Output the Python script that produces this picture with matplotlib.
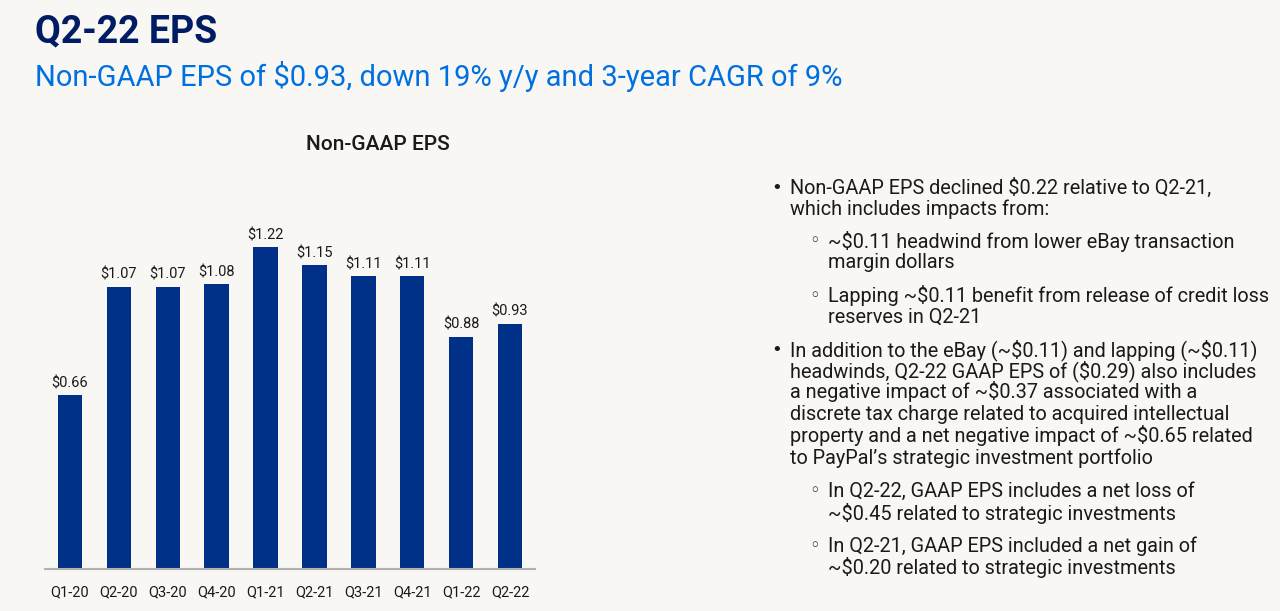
import matplotlib
matplotlib.use("Agg")
import matplotlib.pyplot as plt

quarters = ["Q1-20", "Q2-20", "Q3-20", "Q4-20", "Q1-21", "Q2-21", "Q3-21", "Q4-21", "Q1-22", "Q2-22"]
eps = [0.66, 1.07, 1.07, 1.08, 1.22, 1.15, 1.11, 1.11, 0.88, 0.93]

bullets = [
    (0, "Non-GAAP EPS declined $0.22 relative to Q2-21,"),
    (0, "which includes impacts from:"),
    (1, "~$0.11 headwind from lower eBay transaction"),
    (1, "margin dollars"),
    (1, "Lapping ~$0.11 benefit from release of credit loss"),
    (1, "reserves in Q2-21"),
    (0, "In addition to the eBay (~$0.11) and lapping (~$0.11)"),
    (0, "headwinds, Q2-22 GAAP EPS of ($0.29) also includes"),
    (0, "a negative impact of ~$0.37 associated with a"),
    (0, "discrete tax charge related to acquired intellectual"),
    (0, "property and a net negative impact of ~$0.65 related"),
    (0, "to PayPal\u2019s strategic investment portfolio"),
    (1, "In Q2-22, GAAP EPS includes a net loss of"),
    (1, "~$0.45 related to strategic investments"),
    (1, "In Q2-21, GAAP EPS included a net gain of"),
    (1, "~$0.20 related to strategic investments"),
]
line_y = [188, 209, 241, 263, 296, 317, 350, 371, 392, 414, 436, 458, 491, 513, 546, 567]
starts = {0, 2, 4, 6, 12, 14}

plt.rcParams['font.family'] = ['Roboto', 'DejaVu Sans']
plt.rcParams['text.parse_math'] = False
W, H = 1280, 611
bg = '#f8f7f4'
fig = plt.figure(figsize=(W / 100, H / 100), dpi=100, facecolor=bg)

def fx(px):
    return px / W

def fy(py):
    return 1 - py / H

ax = fig.add_axes([fx(45), fy(569), fx(490), (569 - 200) / H])
ax.set_facecolor(bg)
x = range(len(quarters))
bars = ax.bar(x, eps, width=0.5, color='#003087')
for b, v in zip(bars, eps):
    ax.text(b.get_x() + b.get_width() / 2, v + 0.018, f"${v:.2f}", ha='center', va='bottom',
            fontsize=10.5, color='#1a1a1a')
ax.set_xlim(-0.51, 9.51)
ax.set_ylim(0, 1.398)
ax.set_xticks(list(x))
ax.set_xticklabels(quarters, fontsize=10.5, color='#1a1a1a')
ax.tick_params(axis='x', length=0, pad=12)
ax.set_yticks([])
for s in ['top', 'right', 'left']:
    ax.spines[s].set_visible(False)
ax.spines['bottom'].set_color('#b0b0b0')
ax.spines['bottom'].set_linewidth(1.5)

fig.text(fx(35), fy(32), "Q2-22 EPS", fontsize=27, fontweight='bold', color='#001c64', va='center')
fig.text(fx(35), fy(76), "Non-GAAP EPS of $0.93, down 19% y/y and 3-year CAGR of 9%",
         fontsize=21, color='#0070e0', va='center')
fig.text(fx(378), fy(145), "Non-GAAP EPS", fontsize=15, fontweight='medium', color='#1a1a1a',
         ha='center', va='center')

for i, ((lvl, txt), y) in enumerate(zip(bullets, line_y)):
    tx = 790 if lvl == 0 else 828
    if i in starts:
        mark = "\u2022" if lvl == 0 else "\u25e6"
        fig.text(fx(tx - 13), fy(y), mark, fontsize=13, color='#1a1a1a', va='center',
                 ha='center', family='DejaVu Sans')
    fig.text(fx(tx), fy(y), txt, fontsize=14.3, color='#1a1a1a', va='center')

fig.savefig("out.png", dpi=100, facecolor=bg)
